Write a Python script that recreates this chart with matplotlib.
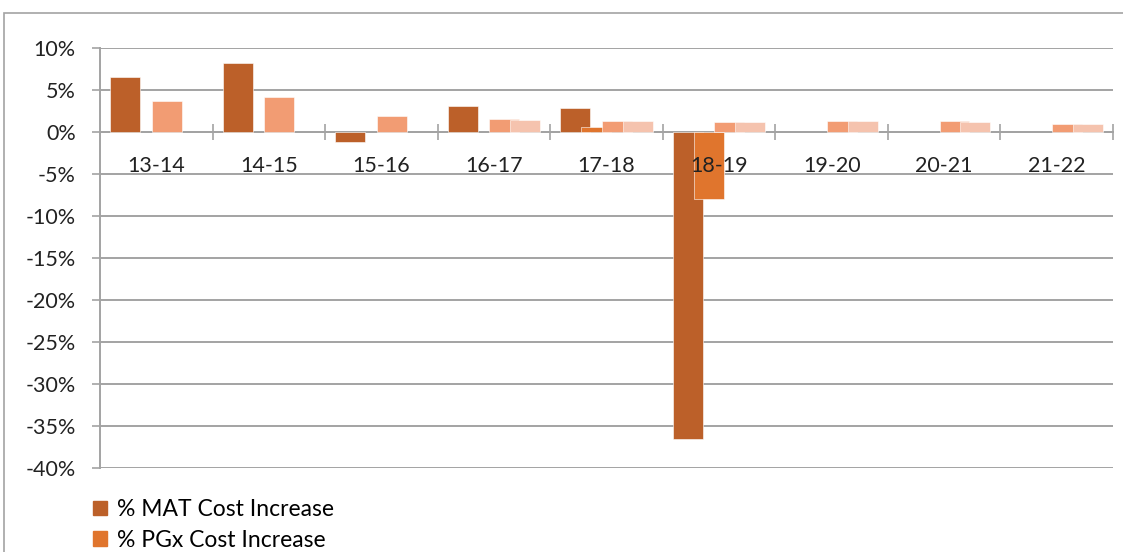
import numpy as np
import matplotlib.pyplot as plt
from matplotlib.patches import Patch, Rectangle

plt.rcParams['font.family'] = ['Lato', 'DejaVu Sans']

# data (percent)
years = ["13-14", "14-15", "15-16", "16-17", "17-18", "18-19", "19-20", "20-21", "21-22"]
mat_increase = [6.5, 8.2, -1.2, 3.1, 2.85, -36.5, np.nan, np.nan, np.nan]
pgx_increase = [np.nan, np.nan, np.nan, np.nan, 0.55, -8.0, np.nan, np.nan, np.nan]
series3 = [3.7, 4.2, 1.9, 1.55, 1.27, 1.2, 1.35, 1.25, 0.95]
series4 = [np.nan, np.nan, np.nan, 1.45, 1.25, 1.15, 1.35, 1.2, 0.95]

colors = ["#BC6029", "#E0752D", "#F29C73", "#F5C3AE"]
yticks = list(range(-40, 11, 5))
FS = 15.5

fig = plt.figure(figsize=(11.23, 5.52), dpi=100)
ax = fig.add_axes([100 / 1123, 1 - 468 / 552, 1013 / 1123, 420 / 552])

x = np.arange(len(years))
w = 0.266
step = 0.184
all_series = [mat_increase, pgx_increase, series3, series4]
for k, (vals, c) in enumerate(zip(all_series, colors)):
    ax.bar(x + (k - 1.5) * step, vals, width=w, color=c, edgecolor="white",
           linewidth=0.4, zorder=3 + k)

ax.set_xlim(-0.5, len(years) - 0.5)
ax.set_ylim(-40, 10)
ax.set_yticks(yticks)
ax.set_yticklabels([f"{t}%" for t in yticks], fontsize=FS, color="#222222")
ax.yaxis.grid(True, color="#A3A3A3", linewidth=1.4, zorder=0)
ax.set_axisbelow(True)

for s in ["top", "right"]:
    ax.spines[s].set_visible(False)
ax.spines["left"].set_color("#A3A3A3")
ax.spines["left"].set_linewidth(1.4)
ax.spines["bottom"].set_position(("data", 0))
ax.spines["bottom"].set_color("#A3A3A3")
ax.spines["bottom"].set_linewidth(1.4)
ax.spines["bottom"].set_zorder(2)

ax.set_xticks(x)
ax.set_xticklabels(years, fontsize=FS, color="#222222")
ax.set_xticks(np.arange(0.5, len(years), 1), minor=True)
ax.tick_params(axis="x", which="major", length=0, pad=17)
ax.tick_params(axis="x", which="minor", direction="inout", length=12, width=1.2, color="#A3A3A3")
ax.tick_params(axis="y", length=5.5, width=1.2, color="#A3A3A3", pad=12)
ax.xaxis.set_zorder(10)  # category labels sit on top of the bars

# outer chart frame (cropped on right/bottom)
fig.patches.append(Rectangle((4 / 1123, -0.05), 1.2, 1 - 13 / 552 + 0.05,
                             transform=fig.transFigure, fill=False,
                             edgecolor="#A3A3A3", linewidth=1.2))

handles = [Patch(color=colors[0], label="% MAT Cost Increase"),
           Patch(color=colors[1], label="% PGx Cost Increase")]
fig.legend(handles=handles, loc="upper left", bbox_to_anchor=(84 / 1123, 1 - 490 / 552),
           frameon=False, fontsize=16.5, handlelength=0.6, handleheight=0.6,
           handletextpad=0.45, labelspacing=0.42, borderaxespad=0)

fig.savefig("out.png", dpi=100)
